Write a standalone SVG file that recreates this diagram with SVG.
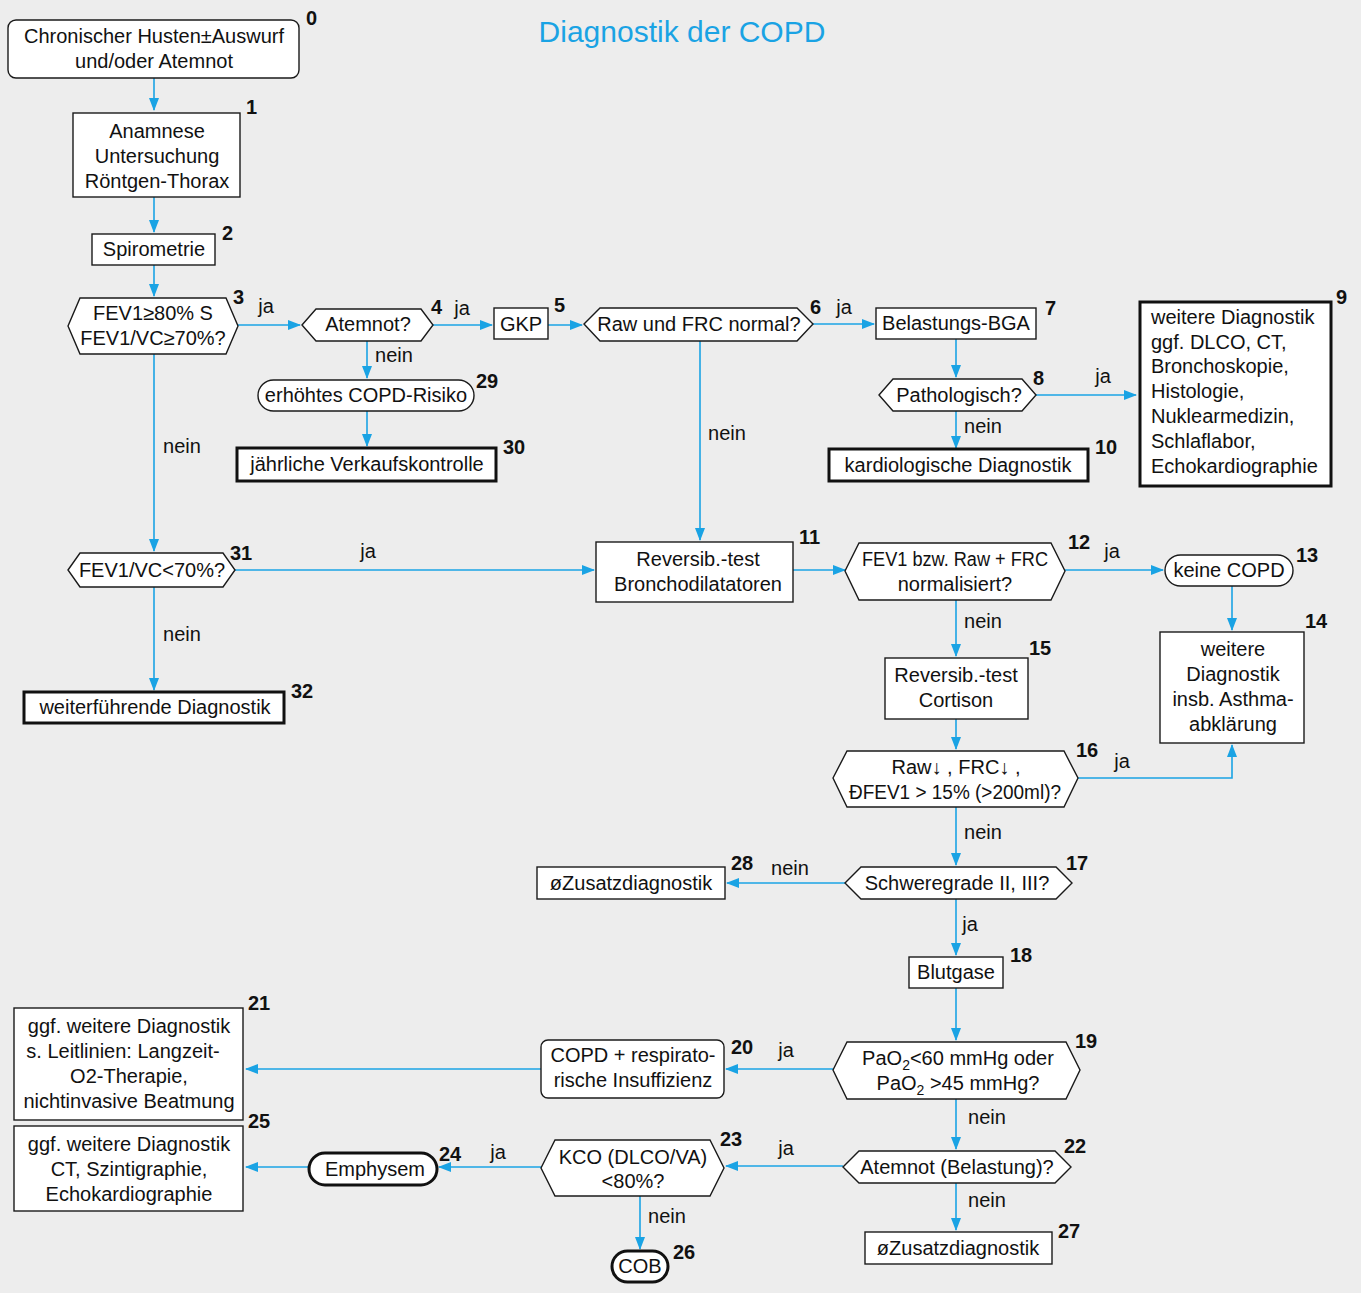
<svg xmlns="http://www.w3.org/2000/svg" width="1361" height="1293" viewBox="0 0 1361 1293">
<defs>
<style>
.bg{fill:#ededed}
.b{fill:#fff;stroke:#1a1a1a;stroke-width:1.4}
.k{fill:#fff;stroke:#111;stroke-width:3}
.t{font-family:"Liberation Sans",Arial,sans-serif;font-size:20px;fill:#111;text-anchor:middle}
.l{text-anchor:start}
.n{font-family:"Liberation Sans",Arial,sans-serif;font-size:20px;font-weight:bold;fill:#111}
.c{fill:none;stroke:#1aa3e4;stroke-width:1.6;marker-end:url(#a)}
.title{font-family:"Liberation Sans",Arial,sans-serif;font-size:30px;fill:#1aa3e4;text-anchor:middle}
</style>
<marker id="a" markerWidth="13" markerHeight="10" refX="12" refY="5" orient="auto" markerUnits="userSpaceOnUse"><path d="M0,0 L13,5 L0,10 z" fill="#1aa3e4"/></marker>
</defs>
<rect class="bg" x="0" y="0" width="1361" height="1293"/>
<text class="title" x="682" y="42">Diagnostik der COPD</text>

<g id="connectors">
<path class="c" d="M154,78 V110"/>
<path class="c" d="M154,197 V232"/>
<path class="c" d="M154,265 V296"/>
<path class="c" d="M238,325 H300"/>
<path class="c" d="M433,325 H492"/>
<path class="c" d="M548,325 H582"/>
<path class="c" d="M813,324 H874"/>
<path class="c" d="M956,339 V377"/>
<path class="c" d="M1036,395 H1136"/>
<path class="c" d="M956,411 V448"/>
<path class="c" d="M367,341 V378"/>
<path class="c" d="M367,411 V446"/>
<path class="c" d="M154,354 V551"/>
<path class="c" d="M235,570 H594"/>
<path class="c" d="M700,341 V540"/>
<path class="c" d="M154,587 V690"/>
<path class="c" d="M793,570 H845"/>
<path class="c" d="M1065,570 H1163"/>
<path class="c" d="M1232,586 V630"/>
<path class="c" d="M956,600 V656"/>
<path class="c" d="M956,719 V749"/>
<path class="c" d="M1078,778 H1232 V745"/>
<path class="c" d="M956,807 V865"/>
<path class="c" d="M845,883 H727"/>
<path class="c" d="M956,899 V955"/>
<path class="c" d="M956,988 V1040"/>
<path class="c" d="M833,1069 H726"/>
<path class="c" d="M541,1069 H246"/>
<path class="c" d="M956,1099 V1149"/>
<path class="c" d="M843,1166 H726"/>
<path class="c" d="M541,1167 H439"/>
<path class="c" d="M309,1167 H246"/>
<path class="c" d="M640,1196 V1249"/>
<path class="c" d="M956,1183 V1230"/>
<g class="t">
<text x="266" y="313">ja</text>
<text x="462" y="315">ja</text>
<text x="844" y="314">ja</text>
<text x="1103" y="383">ja</text>
<text x="983" y="433">nein</text>
<text x="394" y="362">nein</text>
<text x="182" y="453">nein</text>
<text x="368" y="558">ja</text>
<text x="727" y="440">nein</text>
<text x="182" y="641">nein</text>
<text x="1112" y="558">ja</text>
<text x="983" y="628">nein</text>
<text x="1122" y="768">ja</text>
<text x="983" y="839">nein</text>
<text x="790" y="875">nein</text>
<text x="970" y="931">ja</text>
<text x="786" y="1057">ja</text>
<text x="987" y="1124">nein</text>
<text x="786" y="1155">ja</text>
<text x="498" y="1159">ja</text>
<text x="667" y="1223">nein</text>
<text x="987" y="1207">nein</text>
</g>
</g>

<g id="n0"><rect class="b" x="8" y="20" width="291" height="58" rx="8"/>
<text class="t" x="154" y="43">Chronischer Husten±Auswurf</text><text class="t" x="154" y="68">und/oder Atemnot</text>
<text class="n" x="306" y="25">0</text></g>

<g id="n1"><rect class="b" x="73" y="113" width="167" height="84"/>
<text class="t" x="157" y="138">Anamnese</text><text class="t" x="157" y="163">Untersuchung</text><text class="t" x="157" y="188">Röntgen-Thorax</text>
<text class="n" x="246" y="114">1</text></g>

<g id="n2"><rect class="b" x="92" y="234" width="123" height="31"/>
<text class="t" x="154" y="256">Spirometrie</text>
<text class="n" x="222" y="240">2</text></g>

<g id="n3"><path class="b" d="M68,326 L80,298 H226 L238,326 L226,354 H80 Z"/>
<text class="t" x="153" y="320">FEV1≥80% S</text><text class="t" x="153" y="345">FEV1/VC≥70%?</text>
<text class="n" x="233" y="304">3</text></g>

<g id="n4"><path class="b" d="M302,325 L316,309 H421 L433,325 L421,341 H316 Z"/>
<text class="t" x="368" y="331">Atemnot?</text>
<text class="n" x="431" y="314">4</text></g>

<g id="n5"><rect class="b" x="494" y="308" width="54" height="31"/>
<text class="t" x="521" y="331">GKP</text>
<text class="n" x="554" y="312">5</text></g>

<g id="n6"><path class="b" d="M584,324 L600,308 H797 L813,324 L797,341 H600 Z"/>
<text class="t" x="699" y="331">Raw und FRC normal?</text>
<text class="n" x="810" y="314">6</text></g>

<g id="n7"><rect class="b" x="876" y="308" width="160" height="31"/>
<text class="t" x="956" y="330">Belastungs-BGA</text>
<text class="n" x="1045" y="315">7</text></g>

<g id="n8"><path class="b" d="M879,395 L893,379 H1022 L1036,395 L1022,411 H893 Z"/>
<text class="t" x="959" y="402">Pathologisch?</text>
<text class="n" x="1033" y="385">8</text></g>

<g id="n9"><rect class="k" x="1140" y="302" width="191" height="184"/>
<text class="t l" x="1151" y="324">weitere Diagnostik</text><text class="t l" x="1151" y="349">ggf. DLCO, CT,</text><text class="t l" x="1151" y="373">Bronchoskopie,</text><text class="t l" x="1151" y="398">Histologie,</text><text class="t l" x="1151" y="423">Nuklearmedizin,</text><text class="t l" x="1151" y="448">Schlaflabor,</text><text class="t l" x="1151" y="473">Echokardiographie</text>
<text class="n" x="1336" y="304">9</text></g>

<g id="n10"><rect class="k" x="829" y="449" width="259" height="32"/>
<text class="t" x="958" y="472">kardiologische Diagnostik</text>
<text class="n" x="1095" y="454">10</text></g>

<g id="n29"><rect class="b" x="258" y="380" width="216" height="31" rx="15.5"/>
<text class="t" x="366" y="402">erhöhtes COPD-Risiko</text>
<text class="n" x="476" y="388">29</text></g>

<g id="n30"><rect class="k" x="237" y="448" width="259" height="33"/>
<text class="t" x="367" y="471">jährliche Verkaufskontrolle</text>
<text class="n" x="503" y="454">30</text></g>

<g id="n31"><path class="b" d="M68,570 L80,553 H223 L235,570 L223,587 H80 Z"/>
<text class="t" x="152" y="577">FEV1/VC&lt;70%?</text>
<text class="n" x="230" y="560">31</text></g>

<g id="n32"><rect class="k" x="24" y="692" width="260" height="31"/>
<text class="t" x="155" y="714">weiterführende Diagnostik</text>
<text class="n" x="291" y="698">32</text></g>

<g id="n11"><rect class="b" x="596" y="542" width="197" height="60"/>
<text class="t" x="698" y="566">Reversib.-test</text><text class="t" x="698" y="591">Bronchodilatatoren</text>
<text class="n" x="799" y="544">11</text></g>

<g id="n12"><path class="b" d="M845,571 L859,543 H1051 L1065,571 L1051,600 H859 Z"/>
<text class="t" x="955" y="566" textLength="186" lengthAdjust="spacingAndGlyphs">FEV1 bzw. Raw + FRC</text><text class="t" x="955" y="591">normalisiert?</text>
<text class="n" x="1068" y="549">12</text></g>

<g id="n13"><rect class="b" x="1165" y="555" width="128" height="31" rx="15.5"/>
<text class="t" x="1229" y="577">keine COPD</text>
<text class="n" x="1296" y="562">13</text></g>

<g id="n14"><rect class="b" x="1160" y="632" width="144" height="111"/>
<text class="t" x="1233" y="656">weitere</text><text class="t" x="1233" y="681">Diagnostik</text><text class="t" x="1233" y="706">insb. Asthma-</text><text class="t" x="1233" y="731">abklärung</text>
<text class="n" x="1305" y="628">14</text></g>

<g id="n15"><rect class="b" x="885" y="658" width="143" height="61"/>
<text class="t" x="956" y="682">Reversib.-test</text><text class="t" x="956" y="707">Cortison</text>
<text class="n" x="1029" y="655">15</text></g>

<g id="n16"><path class="b" d="M833,778 L847,751 H1064 L1078,778 L1064,807 H847 Z"/>
<text class="t" x="956" y="774">Raw↓ , FRC↓ ,</text><text class="t" x="955" y="799" textLength="212" lengthAdjust="spacingAndGlyphs">ÐFEV1 &gt; 15% (&gt;200ml)?</text>
<text class="n" x="1076" y="757">16</text></g>

<g id="n17"><path class="b" d="M845,883 L861,867 H1056 L1072,883 L1056,899 H861 Z"/>
<text class="t" x="957" y="890">Schweregrade II, III?</text>
<text class="n" x="1066" y="870">17</text></g>

<g id="n28"><rect class="b" x="537" y="867" width="188" height="32"/>
<text class="t" x="631" y="890">øZusatzdiagnostik</text>
<text class="n" x="731" y="870">28</text></g>

<g id="n18"><rect class="b" x="909" y="957" width="94" height="31"/>
<text class="t" x="956" y="979">Blutgase</text>
<text class="n" x="1010" y="962">18</text></g>

<g id="n19"><path class="b" d="M833,1070 L847,1042 H1066 L1080,1070 L1066,1099 H847 Z"/>
<text class="t" x="958" y="1065">PaO<tspan font-size="14" dy="5">2</tspan><tspan dy="-5">&lt;60 mmHg oder</tspan></text>
<text class="t" x="958" y="1090">PaO<tspan font-size="14" dy="5">2</tspan><tspan dy="-5"> &gt;45 mmHg?</tspan></text>
<text class="n" x="1075" y="1048">19</text></g>

<g id="n20"><rect class="b" x="541" y="1040" width="183" height="58" rx="7"/>
<text class="t" x="633" y="1062">COPD + respirato-</text><text class="t" x="633" y="1087">rische Insuffizienz</text>
<text class="n" x="731" y="1054">20</text></g>

<g id="n21"><rect class="b" x="14" y="1008" width="229" height="112"/>
<text class="t" x="129" y="1033">ggf. weitere Diagnostik</text><text class="t" x="123" y="1058">s. Leitlinien: Langzeit-</text><text class="t" x="129" y="1083">O2-Therapie,</text><text class="t" x="129" y="1108">nichtinvasive Beatmung</text>
<text class="n" x="248" y="1010">21</text></g>

<g id="n22"><path class="b" d="M843,1167 L859,1151 H1055 L1071,1167 L1055,1183 H859 Z"/>
<text class="t" x="957" y="1174">Atemnot (Belastung)?</text>
<text class="n" x="1064" y="1153">22</text></g>

<g id="n23"><path class="b" d="M541,1168 L555,1140 H710 L724,1168 L710,1196 H555 Z"/>
<text class="t" x="633" y="1164">KCO (DLCO/VA)</text><text class="t" x="633" y="1188">&lt;80%?</text>
<text class="n" x="720" y="1146">23</text></g>

<g id="n24"><rect class="k" x="309" y="1153" width="128" height="32" rx="16"/>
<text class="t" x="375" y="1176">Emphysem</text>
<text class="n" x="439" y="1161">24</text></g>

<g id="n25"><rect class="b" x="14" y="1126" width="229" height="85"/>
<text class="t" x="129" y="1151">ggf. weitere Diagnostik</text><text class="t" x="129" y="1176">CT, Szintigraphie,</text><text class="t" x="129" y="1201">Echokardiographie</text>
<text class="n" x="248" y="1128">25</text></g>

<g id="n26"><rect class="k" x="612" y="1251" width="56" height="31" rx="15.5"/>
<text class="t" x="640" y="1273">COB</text>
<text class="n" x="673" y="1259">26</text></g>

<g id="n27"><rect class="b" x="865" y="1232" width="187" height="32"/>
<text class="t" x="958" y="1255">øZusatzdiagnostik</text>
<text class="n" x="1058" y="1238">27</text></g>
</svg>
